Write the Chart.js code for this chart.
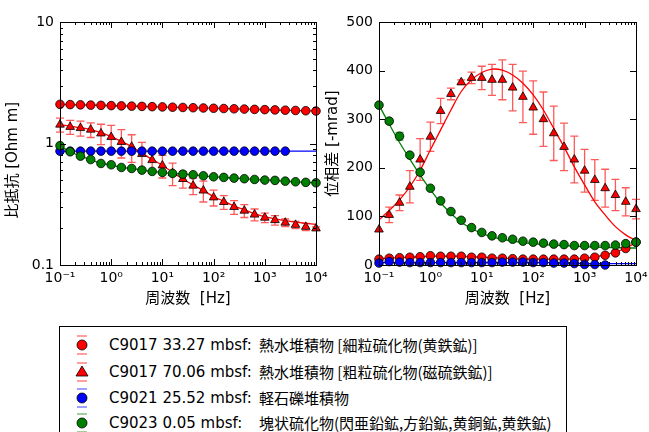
<!DOCTYPE html>
<html lang="ja">
<head>
    <meta charset="UTF-8">
    <title>比抵抗・位相差スペクトル</title>
    <script src="https://cdn.jsdelivr.net/npm/chart.js@4.4.0/dist/chart.umd.min.js"></script>
    <style>
        body {
            margin: 0;
            width: 649px;
            height: 432px;
            overflow: hidden;
            background: #fff;
            position: relative;
            font-family: "DejaVu Sans", "Noto Sans CJK JP", sans-serif;
        }
        .panel { position: absolute; top: 0; height: 310px; }
        #leftPanel { left: 0; width: 330px; }
        #rightPanel { left: 320px; width: 329px; }
        .legend {
            position: absolute;
            left: 59px;
            top: 326px;
            width: 508px;
            height: 120px;
            border: 1px solid #000;
            box-sizing: border-box;
        }
        .row { position: absolute; left: 0; height: 20px; line-height: 20px; font-size: 15px; color: #000; }
        .row svg { position: absolute; left: 12px; top: -4px; }
        .row .code { position: absolute; left: 49px; white-space: nowrap; }
        .row .desc { position: absolute; left: 199px; white-space: nowrap; font-family: "Noto Sans CJK JP", sans-serif; }
    </style>
</head>
<body>
    <div class="panel" id="leftPanel"><canvas id="resChart"></canvas></div>
    <div class="panel" id="rightPanel"><canvas id="phaseChart"></canvas></div>

    <div class="legend">
        <div class="row" style="top:8px">
            <svg width="20" height="28"><line x1="5" y1="5" x2="15" y2="5" stroke="rgba(255,0,0,0.5)" stroke-width="1.5"/><line x1="5" y1="23" x2="15" y2="23" stroke="rgba(255,0,0,0.5)" stroke-width="1.5"/><circle cx="10" cy="14" r="5" fill="#ff0000" stroke="#000" stroke-width="0.8"/></svg>
            <span class="code">C9017 33.27 mbsf:</span><span class="desc">熱水堆積物 [細粒硫化物(黄鉄鉱)]</span>
        </div>
        <div class="row" style="top:35px">
            <svg width="20" height="28"><line x1="5" y1="5" x2="15" y2="5" stroke="rgba(255,0,0,0.5)" stroke-width="1.5"/><line x1="5" y1="23" x2="15" y2="23" stroke="rgba(255,0,0,0.5)" stroke-width="1.5"/><polygon points="10,8 16,18 4,18" fill="#ff0000" stroke="#000" stroke-width="0.8"/></svg>
            <span class="code">C9017 70.06 mbsf:</span><span class="desc">熱水堆積物 [粗粒硫化物(磁硫鉄鉱)]</span>
        </div>
        <div class="row" style="top:61px">
            <svg width="20" height="28"><line x1="5" y1="5" x2="15" y2="5" stroke="rgba(0,0,255,0.5)" stroke-width="1.5"/><line x1="5" y1="23" x2="15" y2="23" stroke="rgba(0,0,255,0.5)" stroke-width="1.5"/><circle cx="10" cy="14" r="5" fill="#0000ff" stroke="#000" stroke-width="0.8"/></svg>
            <span class="code">C9021 25.52 mbsf:</span><span class="desc">軽石礫堆積物</span>
        </div>
        <div class="row" style="top:86px">
            <svg width="20" height="28"><line x1="5" y1="5" x2="15" y2="5" stroke="rgba(0,128,0,0.5)" stroke-width="1.5"/><line x1="5" y1="23" x2="15" y2="23" stroke="rgba(0,128,0,0.5)" stroke-width="1.5"/><circle cx="10" cy="14" r="5" fill="#008000" stroke="#000" stroke-width="0.8"/></svg>
            <span class="code">C9023 0.05 mbsf:</span><span class="desc">塊状硫化物(閃亜鉛鉱,方鉛鉱,黄銅鉱,黄鉄鉱)</span>
        </div>
    </div>

    <script>
        // frequencies [Hz], 5 per decade
        const freq = [0.1, 0.158, 0.251, 0.398, 0.631, 1, 1.58, 2.51, 3.98, 6.31,
                      10, 15.8, 25.1, 39.8, 63.1, 100, 158, 251, 398, 631,
                      1000, 1580, 2510, 3980, 6310, 10000];

        const xTicks = [0.1, 1, 10, 100, 1000, 10000];
        const xTickLabels = ['10⁻¹', '10⁰', '10¹', '10²', '10³', '10⁴'];
        const resTicks = [0.1, 1, 10];
        const resTickLabels = ['0.1', '1', '10'];
        const phaseTicks = [0, 100, 200, 300, 400, 500];

        // resistivity [Ohm m]
        const resRedCircle = [2.10, 2.09, 2.08, 2.07, 2.06, 2.05, 2.04, 2.03, 2.02, 2.01,
                              2.00, 1.99, 1.98, 1.97, 1.96, 1.95, 1.94, 1.93, 1.92, 1.91,
                              1.90, 1.89, 1.88, 1.87, 1.86, 1.85];
        const resRedTri = [1.43, 1.37, 1.34, 1.30, 1.21, 1.13, 1.03, 0.94, 0.82, 0.73,
                           0.66, 0.57, 0.51, 0.45, 0.41, 0.36, 0.33, 0.30, 0.28, 0.26,
                           0.245, 0.234, 0.223, 0.214, 0.206, 0.20];
        const resRedTriErr = [0.19, 0.18, 0.19, 0.18, 0.23, 0.28, 0.27, 0.24, 0.20, 0.16,
                              0.14, 0.12, 0.08, 0.07, 0.08, 0.054, 0.043, 0.039, 0.034, 0.029,
                              0.022, 0.021, 0.016, 0.015, 0.014, 0.006];
        const resBlue = [0.865, 0.865, 0.865, 0.865, 0.865, 0.865, 0.865, 0.865, 0.865, 0.865,
                         0.865, 0.865, 0.865, 0.865, 0.865, 0.865, 0.865, 0.865, 0.865, 0.865,
                         0.865, 0.865, 0.865];
        const resGreen = [0.96, 0.855, 0.787, 0.738, 0.685, 0.668, 0.635, 0.623, 0.604, 0.589,
                          0.578, 0.567, 0.56, 0.553, 0.542, 0.532, 0.526, 0.519, 0.513, 0.506,
                          0.50, 0.497, 0.49, 0.484, 0.479, 0.475];

        // model fits (resistivity)
        const fitResRedCircle = resRedCircle;
        const fitResRedTri = [1.43, 1.39, 1.35, 1.30, 1.23, 1.14, 1.04, 0.94, 0.83, 0.74,
                              0.66, 0.58, 0.51, 0.455, 0.41, 0.365, 0.335, 0.305, 0.285, 0.265,
                              0.25, 0.24, 0.232, 0.225, 0.22, 0.216];
        const fitResBlue = [0.865, 0.865, 0.865, 0.865, 0.865, 0.865, 0.865, 0.865, 0.865, 0.865,
                            0.865, 0.865, 0.865, 0.865, 0.865, 0.865, 0.865, 0.865, 0.865, 0.865,
                            0.865, 0.865, 0.865, 0.865, 0.865, 0.865];
        const fitResGreen = resGreen;

        // phase [-mrad]
        const phRedCircle = [12, 14, 15, 16, 17, 19, 18, 18, 18, 16,
                             16, 14, 14, 13, 12, 12, 12, 12, 12, 12,
                             14, 16, 20, 25, 34, 47];
        const phRedTri = [73, 103, 128, 161, 217, 264, 317, 352, 376, 385,
                          385, 381, 381, 365, 346, 324, 300, 271, 243, 217,
                          194, 175, 158, 144, 130, 115];
        const phRedTriErr = [0, 16, 16, 33, 43, 30, 26, 12, 5, 12,
                             24, 32, 41, 48, 53, 55, 56, 56, 49, 48,
                             44, 42, 39, 32, 29, 20];
        const phBlue = [4, 7, 6, 5, 5, 5, 5, 5, 5, 5,
                        5, 5, 6, 6, 6, 5, 5, 4, 4, 3,
                        1, 1, 0];
        const phGreen = [329, 296, 265, 226, 191, 158, 132, 110, 92, 77,
                         67, 60, 56, 53, 49, 47, 45, 43, 42, 40,
                         40, 40, 40, 41, 44, 47];
        const phGreenErr = [0, 5, 8, 0, 0, 0, 0, 0, 0, 0,
                            0, 0, 0, 0, 0, 0, 0, 0, 0, 0,
                            0, 0, 0, 0, 0, 0];

        // model fits (phase)
        const fitPhRedCircle = [13, 14, 15, 16, 17, 18, 18, 18, 18, 17,
                                16, 15, 14, 13, 12, 12, 12, 12, 12, 13,
                                14, 17, 21, 27, 35, 46];
        const fitPhRedTri = [93, 112, 134, 161, 195, 237, 278, 319, 357, 381,
                             396, 403, 401, 391, 374, 350, 319, 281, 243, 202,
                             165, 130, 103, 79, 62, 50];
        const fitPhBlue = [5, 5, 5, 5, 5, 5, 5, 5, 5, 5,
                           5, 5, 5, 5, 5, 5, 5, 5, 4, 4,
                           3, 3, 3, 3, 3, 3];
        const fitPhGreen = [329, 290, 252, 218, 185, 155, 128, 106, 88, 75,
                            65, 58, 53, 49, 46, 44, 42, 41, 40, 39,
                            38, 37, 36, 36, 35, 35];

        const RED = '#ff0000', BLUE = '#0000ff', GREEN = '#008000';
        const pts = (ys) => ys.map((y, i) => ({ x: freq[i], y: y }));

        // later samples are drawn on top (lower order = on top)
        function markers(ys, color, style, order, errs, errColor) {
            return {
                data: pts(ys), showLine: false, clip: false, order: order,
                pointStyle: style, pointRadius: style === 'triangle' ? 5 : 4.3,
                pointBackgroundColor: color, pointBorderColor: '#000', pointBorderWidth: 0.8,
                errors: errs, errorColor: errColor
            };
        }
        function fitLine(ys, color) {
            return {
                data: pts(ys), borderColor: color, borderWidth: 1.3, pointRadius: 0,
                tension: 0.3, fill: false, order: 10
            };
        }

        // error bars drawn under the markers
        const errorBars = {
            id: 'errorBars',
            beforeDatasetsDraw(chart) {
                const ctx = chart.ctx, xs = chart.scales.x, ys = chart.scales.y;
                ctx.save();
                chart.data.datasets.forEach(ds => {
                    if (!ds.errors) return;
                    ctx.strokeStyle = ds.errorColor;
                    ctx.lineWidth = 1.3;
                    ds.data.forEach((p, j) => {
                        const e = ds.errors[j];
                        if (!e) return;
                        const x = xs.getPixelForValue(p.x);
                        const y1 = ys.getPixelForValue(p.y - e);
                        const y2 = ys.getPixelForValue(p.y + e);
                        ctx.beginPath();
                        ctx.moveTo(x, y1); ctx.lineTo(x, y2);
                        ctx.moveTo(x - 4, y1); ctx.lineTo(x + 4, y1);
                        ctx.moveTo(x - 4, y2); ctx.lineTo(x + 4, y2);
                        ctx.stroke();
                    });
                });
                ctx.restore();
            }
        };

        // matplotlib-like frame with inward ticks on all four sides
        const frameTicks = {
            id: 'frameTicks',
            afterDraw(chart) {
                const ctx = chart.ctx, a = chart.chartArea;
                const xs = chart.scales.x, ys = chart.scales.y;
                ctx.save();
                ctx.strokeStyle = '#000';
                ctx.lineWidth = 1;
                ctx.beginPath();
                const tickX = (v, len) => {
                    const x = Math.round(xs.getPixelForValue(v)) + 0.5;
                    ctx.moveTo(x, a.bottom); ctx.lineTo(x, a.bottom - len);
                    ctx.moveTo(x, a.top); ctx.lineTo(x, a.top + len);
                };
                const tickY = (v, len) => {
                    const y = Math.round(ys.getPixelForValue(v)) + 0.5;
                    ctx.moveTo(a.left, y); ctx.lineTo(a.left + len, y);
                    ctx.moveTo(a.right, y); ctx.lineTo(a.right - len, y);
                };
                xTicks.forEach((d, i) => {
                    tickX(d, 6);
                    if (i < xTicks.length - 1) for (let m = 2; m < 10; m++) tickX(d * m, 3);
                });
                if (ys.type === 'logarithmic') {
                    resTicks.forEach((d, i) => {
                        tickY(d, 6);
                        if (i < resTicks.length - 1) for (let m = 2; m < 10; m++) tickY(d * m, 3);
                    });
                } else {
                    phaseTicks.forEach(v => tickY(v, 6));
                }
                ctx.stroke();
                ctx.strokeRect(a.left + 0.5, a.top + 0.5, a.right - a.left, a.bottom - a.top);
                ctx.restore();
            }
        };

        const tickFont = { family: 'DejaVu Sans', size: 14 };
        const titleFont = { family: "'DejaVu Sans', 'Noto Sans CJK JP'", size: 15 };

        function xScale() {
            return {
                type: 'logarithmic', min: 0.1, max: 10000,
                afterBuildTicks: s => { s.ticks = xTicks.map(v => ({ value: v })); },
                afterFit: s => { s.height = 45; s.paddingLeft = 0; s.paddingRight = 0; },
                ticks: { callback: (v, i) => xTickLabels[i], font: tickFont, color: '#000', padding: 5, maxRotation: 0, autoSkip: false },
                grid: { display: false, drawTicks: false },
                border: { display: false },
                title: { display: true, text: '周波数  [Hz]', font: titleFont, color: '#000', padding: { top: 0, bottom: 2 } }
            };
        }

        const common = {
            responsive: true,
            maintainAspectRatio: false,
            animation: false,
            plugins: { legend: { display: false }, tooltip: { enabled: false } }
        };

        new Chart(document.getElementById('resChart'), {
            type: 'line',
            data: {
                datasets: [
                    markers(resRedCircle, RED, 'circle', 4),
                    markers(resRedTri, RED, 'triangle', 3, resRedTriErr, 'rgba(255,0,0,0.65)'),
                    markers(resBlue, BLUE, 'circle', 2),
                    markers(resGreen, GREEN, 'circle', 1),
                    fitLine(fitResRedCircle, RED),
                    fitLine(fitResRedTri, RED),
                    fitLine(fitResBlue, BLUE),
                    fitLine(fitResGreen, GREEN)
                ]
            },
            options: Object.assign({}, common, {
                layout: { padding: { top: 22, right: 14, left: 0, bottom: 0 } },
                scales: {
                    x: xScale(),
                    y: {
                        type: 'logarithmic', min: 0.1, max: 10,
                        afterBuildTicks: s => { s.ticks = resTicks.map(v => ({ value: v })); },
                        afterFit: s => { s.width = 60; },
                        ticks: { callback: (v, i) => resTickLabels[i], font: tickFont, color: '#000', padding: 6 },
                        grid: { display: false, drawTicks: false },
                        border: { display: false },
                        title: { display: true, text: '比抵抗 [Ohm m]\u00a0\u00a0\u00a0\u00a0\u00a0\u00a0\u00a0', font: titleFont, color: '#000', padding: { top: 4, bottom: 0 } }
                    }
                }
            }),
            plugins: [errorBars, frameTicks]
        });

        new Chart(document.getElementById('phaseChart'), {
            type: 'line',
            data: {
                datasets: [
                    markers(phRedCircle, RED, 'circle', 4),
                    markers(phRedTri, RED, 'triangle', 3, phRedTriErr, 'rgba(255,0,0,0.65)'),
                    markers(phBlue, BLUE, 'circle', 2),
                    markers(phGreen, GREEN, 'circle', 1, phGreenErr, 'rgba(0,128,0,0.6)'),
                    fitLine(fitPhRedCircle, RED),
                    fitLine(fitPhRedTri, RED),
                    fitLine(fitPhBlue, BLUE),
                    fitLine(fitPhGreen, GREEN)
                ]
            },
            options: Object.assign({}, common, {
                layout: { padding: { top: 22, right: 13, left: 0, bottom: 0 } },
                scales: {
                    x: xScale(),
                    y: {
                        type: 'linear', min: 0, max: 500,
                        afterBuildTicks: s => { s.ticks = phaseTicks.map(v => ({ value: v })); },
                        afterFit: s => { s.width = 59; },
                        ticks: { font: tickFont, color: '#000', padding: 6 },
                        grid: { display: false, drawTicks: false },
                        border: { display: false },
                        title: { display: true, text: '位相差 [-mrad]', font: titleFont, color: '#000', padding: { top: 4, bottom: 0 } }
                    }
                }
            }),
            plugins: [errorBars, frameTicks]
        });
    </script>
</body>
</html>
